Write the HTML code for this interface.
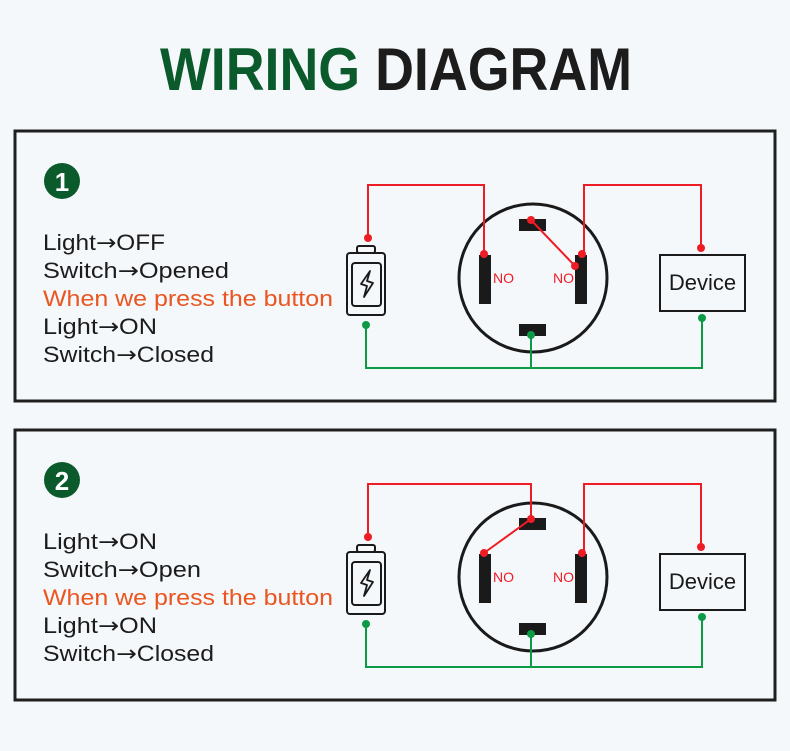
<!DOCTYPE html>
<html><head><meta charset="utf-8"><style>
html,body{margin:0;padding:0;background:#f5f8fb;}
svg{display:block;font-family:"Liberation Sans",sans-serif;}
.a{font-family:"DejaVu Sans",sans-serif;}
</style></head><body>
<svg width="790" height="751" viewBox="0 0 790 751" xmlns="http://www.w3.org/2000/svg">
<rect width="790" height="751" fill="#f5f8fb"/>
<text x="160" y="90" font-size="60" font-weight="bold" textLength="472" lengthAdjust="spacingAndGlyphs"><tspan fill="#0b5a2c">WIRING</tspan><tspan fill="#1c1c1c"> DIAGRAM</tspan></text>

<defs>
<g id="common">
  <rect x="347" y="253" width="38" height="62" rx="3" fill="none" stroke="#1a1a1a" stroke-width="2"/>
  <rect x="357" y="246" width="18" height="7" rx="2" fill="none" stroke="#1a1a1a" stroke-width="2"/>
  <rect x="352" y="263" width="29" height="43" rx="3" fill="none" stroke="#1a1a1a" stroke-width="2"/>
  <path d="M370 271 L361 284 L367 286 L364 297 L373 283 L367 281 Z" fill="none" stroke="#1a1a1a" stroke-width="1.8" stroke-linejoin="round"/>
  <circle cx="533" cy="278" r="74" fill="none" stroke="#1a1a1a" stroke-width="3"/>
  <rect x="519" y="219" width="27" height="12" fill="#1a1a1a"/>
  <rect x="479" y="255" width="12" height="49" fill="#1a1a1a"/>
  <rect x="575" y="255" width="12" height="49" fill="#1a1a1a"/>
  <rect x="519" y="324" width="27" height="12" fill="#1a1a1a"/>
  <text x="493" y="283" font-size="14" fill="#ee1c25">NO</text>
  <text x="553" y="283" font-size="14" fill="#ee1c25">NO</text>
  <rect x="660" y="255" width="85" height="56" fill="none" stroke="#1a1a1a" stroke-width="2"/>
  <text x="702.5" y="290" font-size="22" text-anchor="middle" fill="#1a1a1a">Device</text>
  <polyline points="366,325 366,368 702,368 702,318" fill="none" stroke="#0c9a45" stroke-width="2"/>
  <line x1="531" y1="335" x2="531" y2="368" stroke="#0c9a45" stroke-width="2"/>
  <circle cx="366" cy="325" r="4" fill="#0c9a45"/>
  <circle cx="531" cy="335" r="4" fill="#0c9a45"/>
  <circle cx="702" cy="318" r="4" fill="#0c9a45"/>
  <polyline points="582,254 584,254 584,185 701,185 701,248" fill="none" stroke="#ee1c25" stroke-width="2"/>
  <circle cx="582" cy="254" r="4" fill="#ee1c25"/>
  <circle cx="701" cy="248" r="4" fill="#ee1c25"/>
  <circle cx="368" cy="238" r="4" fill="#ee1c25"/>
</g>
</defs>

<rect x="15" y="131" width="760" height="270" fill="none" stroke="#1f1f1f" stroke-width="3"/>
<circle cx="62" cy="181" r="18" fill="#0b5a2c"/>
<text x="62" y="191" font-size="26" font-weight="bold" fill="#fff" text-anchor="middle">1</text>
<g font-size="22" fill="#1c1c1c">
<text x="43" y="250" textLength="122" lengthAdjust="spacingAndGlyphs">Light<tspan class="a">→</tspan>OFF</text>
<text x="43" y="278" textLength="186" lengthAdjust="spacingAndGlyphs">Switch<tspan class="a">→</tspan>Opened</text>
<text x="43" y="306" fill="#ea5520" textLength="290" lengthAdjust="spacingAndGlyphs">When we press the button</text>
<text x="43" y="334" textLength="114" lengthAdjust="spacingAndGlyphs">Light<tspan class="a">→</tspan>ON</text>
<text x="43" y="362" textLength="171" lengthAdjust="spacingAndGlyphs">Switch<tspan class="a">→</tspan>Closed</text>
</g>
<use href="#common"/>
<polyline points="368,238 368,185 484,185 484,254" fill="none" stroke="#ee1c25" stroke-width="2"/>
<circle cx="484" cy="254" r="4" fill="#ee1c25"/>
<line x1="531" y1="220" x2="575" y2="266" stroke="#ee1c25" stroke-width="2"/>
<circle cx="531" cy="220" r="4" fill="#ee1c25"/>
<circle cx="575" cy="266" r="4" fill="#ee1c25"/>

<rect x="15" y="430" width="760" height="270" fill="none" stroke="#1f1f1f" stroke-width="3"/>
<circle cx="62" cy="480" r="18" fill="#0b5a2c"/>
<text x="62" y="490" font-size="26" font-weight="bold" fill="#fff" text-anchor="middle">2</text>
<g font-size="22" fill="#1c1c1c">
<text x="43" y="549" textLength="114" lengthAdjust="spacingAndGlyphs">Light<tspan class="a">→</tspan>ON</text>
<text x="43" y="577" textLength="158" lengthAdjust="spacingAndGlyphs">Switch<tspan class="a">→</tspan>Open</text>
<text x="43" y="605" fill="#ea5520" textLength="290" lengthAdjust="spacingAndGlyphs">When we press the button</text>
<text x="43" y="633" textLength="114" lengthAdjust="spacingAndGlyphs">Light<tspan class="a">→</tspan>ON</text>
<text x="43" y="661" textLength="171" lengthAdjust="spacingAndGlyphs">Switch<tspan class="a">→</tspan>Closed</text>
</g>
<g transform="translate(0,299)">
<use href="#common"/>
<polyline points="368,238 368,185 531,185 531,220" fill="none" stroke="#ee1c25" stroke-width="2"/>
<line x1="531" y1="220" x2="484" y2="254" stroke="#ee1c25" stroke-width="2"/>
<circle cx="531" cy="220" r="4" fill="#ee1c25"/>
<circle cx="484" cy="254" r="4" fill="#ee1c25"/>
</g>
</svg>
</body></html>
